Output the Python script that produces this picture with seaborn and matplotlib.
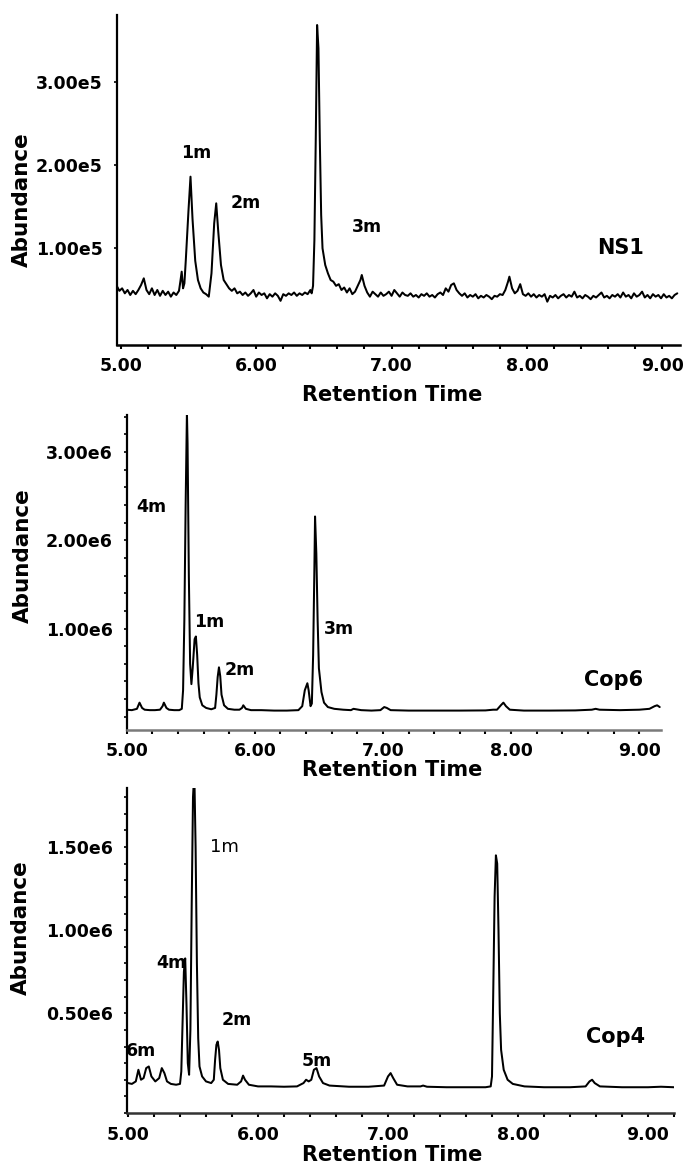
import matplotlib
matplotlib.use("Agg")
import matplotlib.pyplot as plt
from matplotlib.ticker import FixedLocator, MultipleLocator
import seaborn as sns
import pandas as pd

# ---------------- data ----------------
x_ticks = [5.0, 6.0, 7.0, 8.0, 9.0]
x_ticklabels = ["5.00", "6.00", "7.00", "8.00", "9.00"]

# NS1 trace: retention time (min), abundance in units of 1e5
ns1_trace = [
    (4.97, 0.55), (4.99, 0.49), (5.01, 0.52), (5.03, 0.46), (5.05, 0.50), (5.07, 0.44),
    (5.09, 0.49), (5.11, 0.45), (5.13, 0.50), (5.15, 0.56), (5.17, 0.64), (5.19, 0.50),
    (5.21, 0.45), (5.23, 0.52), (5.25, 0.44), (5.27, 0.50), (5.29, 0.43), (5.31, 0.49),
    (5.33, 0.44), (5.35, 0.48), (5.37, 0.42), (5.39, 0.47), (5.41, 0.44), (5.43, 0.49),
    (5.44, 0.60), (5.45, 0.72), (5.46, 0.52), (5.47, 0.58), (5.48, 0.85), (5.50, 1.45),
    (5.515, 1.86), (5.53, 1.35), (5.55, 0.85), (5.57, 0.62), (5.59, 0.52), (5.61, 0.47),
    (5.63, 0.45), (5.65, 0.42), (5.67, 0.70), (5.69, 1.30), (5.705, 1.54), (5.72, 1.20),
    (5.74, 0.80), (5.76, 0.62), (5.78, 0.57), (5.80, 0.52), (5.82, 0.49), (5.84, 0.52),
    (5.86, 0.46), (5.88, 0.48), (5.90, 0.44), (5.92, 0.47), (5.94, 0.43), (5.96, 0.46),
    (5.98, 0.50), (6.00, 0.42), (6.02, 0.47), (6.04, 0.44), (6.06, 0.46), (6.08, 0.40),
    (6.10, 0.45), (6.12, 0.42), (6.14, 0.46), (6.16, 0.43), (6.18, 0.37), (6.20, 0.45),
    (6.22, 0.43), (6.24, 0.46), (6.26, 0.44), (6.28, 0.47), (6.30, 0.43), (6.32, 0.46),
    (6.34, 0.44), (6.36, 0.47), (6.38, 0.45), (6.40, 0.50), (6.41, 0.46), (6.42, 0.55),
    (6.43, 1.10), (6.44, 2.30), (6.45, 3.68), (6.46, 3.40), (6.47, 2.30), (6.48, 1.40),
    (6.49, 1.00), (6.51, 0.80), (6.53, 0.70), (6.55, 0.62), (6.57, 0.60), (6.59, 0.55),
    (6.61, 0.57), (6.63, 0.50), (6.65, 0.53), (6.67, 0.47), (6.69, 0.52), (6.71, 0.45),
    (6.73, 0.48), (6.75, 0.55), (6.77, 0.62), (6.78, 0.68), (6.80, 0.55), (6.82, 0.47),
    (6.84, 0.42), (6.86, 0.48), (6.88, 0.45), (6.90, 0.42), (6.92, 0.47), (6.94, 0.43),
    (6.96, 0.45), (6.98, 0.48), (7.00, 0.43), (7.02, 0.50), (7.04, 0.46), (7.06, 0.42),
    (7.08, 0.47), (7.10, 0.44), (7.12, 0.43), (7.14, 0.46), (7.16, 0.42), (7.18, 0.44),
    (7.20, 0.41), (7.22, 0.45), (7.24, 0.43), (7.26, 0.46), (7.28, 0.42), (7.30, 0.44),
    (7.32, 0.41), (7.34, 0.45), (7.36, 0.47), (7.38, 0.44), (7.40, 0.52), (7.42, 0.48),
    (7.44, 0.56), (7.46, 0.58), (7.48, 0.50), (7.50, 0.46), (7.52, 0.43), (7.54, 0.46),
    (7.56, 0.41), (7.58, 0.44), (7.60, 0.42), (7.62, 0.45), (7.64, 0.40), (7.66, 0.43),
    (7.68, 0.41), (7.70, 0.44), (7.72, 0.42), (7.74, 0.39), (7.76, 0.43), (7.78, 0.42),
    (7.80, 0.45), (7.82, 0.44), (7.84, 0.50), (7.86, 0.60), (7.87, 0.66), (7.89, 0.52),
    (7.91, 0.46), (7.93, 0.49), (7.95, 0.57), (7.97, 0.45), (7.99, 0.43), (8.01, 0.46),
    (8.03, 0.42), (8.05, 0.45), (8.07, 0.41), (8.09, 0.44), (8.11, 0.42), (8.13, 0.45),
    (8.15, 0.36), (8.17, 0.43), (8.19, 0.41), (8.21, 0.44), (8.23, 0.40), (8.25, 0.43),
    (8.27, 0.45), (8.29, 0.41), (8.31, 0.44), (8.33, 0.42), (8.35, 0.48), (8.37, 0.41),
    (8.39, 0.43), (8.41, 0.40), (8.43, 0.44), (8.45, 0.42), (8.47, 0.39), (8.49, 0.43),
    (8.51, 0.41), (8.53, 0.44), (8.55, 0.47), (8.57, 0.41), (8.59, 0.43), (8.61, 0.40),
    (8.63, 0.44), (8.65, 0.42), (8.67, 0.45), (8.69, 0.41), (8.71, 0.47), (8.73, 0.42),
    (8.75, 0.44), (8.77, 0.40), (8.79, 0.46), (8.81, 0.42), (8.83, 0.44), (8.85, 0.48),
    (8.87, 0.41), (8.89, 0.44), (8.91, 0.40), (8.93, 0.45), (8.95, 0.42), (8.97, 0.44),
    (8.99, 0.40), (9.01, 0.45), (9.03, 0.41), (9.05, 0.43), (9.07, 0.40), (9.09, 0.44),
    (9.11, 0.46),
]
ns1_yticks = [1.0, 2.0, 3.0]
ns1_yticklabels = ["1.00e5", "2.00e5", "3.00e5"]
ns1_labels = ["1m", "2m", "3m"]
ns1_label_rt = [5.56, 5.92, 6.82]
ns1_label_ab = [2.14, 1.54, 1.25]

# Cop6 trace: retention time (min), abundance in units of 1e6
cop6_trace = [
    (5.00, 0.08), (5.04, 0.075), (5.08, 0.09), (5.10, 0.16), (5.12, 0.10), (5.14, 0.08),
    (5.18, 0.075), (5.22, 0.075), (5.26, 0.08), (5.28, 0.12), (5.29, 0.16), (5.31, 0.10),
    (5.33, 0.08), (5.37, 0.075), (5.41, 0.075), (5.43, 0.09), (5.44, 0.30), (5.45, 1.10),
    (5.46, 2.40), (5.47, 3.45), (5.475, 3.10), (5.485, 1.60), (5.495, 0.60), (5.505, 0.37),
    (5.515, 0.55), (5.53, 0.88), (5.54, 0.91), (5.55, 0.70), (5.56, 0.38), (5.57, 0.22),
    (5.59, 0.13), (5.62, 0.10), (5.66, 0.085), (5.69, 0.10), (5.70, 0.25), (5.71, 0.45),
    (5.72, 0.56), (5.73, 0.46), (5.74, 0.25), (5.76, 0.13), (5.79, 0.09), (5.84, 0.08),
    (5.88, 0.08), (5.90, 0.10), (5.91, 0.13), (5.93, 0.09), (5.97, 0.075), (6.05, 0.075),
    (6.15, 0.07), (6.25, 0.07), (6.34, 0.075), (6.37, 0.12), (6.39, 0.30), (6.41, 0.38),
    (6.42, 0.30), (6.435, 0.12), (6.445, 0.15), (6.455, 0.70), (6.465, 1.70), (6.47, 2.27),
    (6.48, 1.85), (6.49, 1.10), (6.50, 0.55), (6.52, 0.28), (6.54, 0.16), (6.57, 0.11),
    (6.62, 0.09), (6.69, 0.08), (6.75, 0.075), (6.77, 0.09), (6.79, 0.085), (6.83, 0.075),
    (6.91, 0.07), (6.98, 0.075), (7.01, 0.11), (7.03, 0.10), (7.06, 0.075), (7.20, 0.07),
    (7.40, 0.07), (7.60, 0.07), (7.80, 0.072), (7.86, 0.08), (7.89, 0.08), (7.92, 0.13),
    (7.94, 0.16), (7.96, 0.12), (7.99, 0.08), (8.10, 0.07), (8.30, 0.07), (8.50, 0.072),
    (8.63, 0.08), (8.66, 0.09), (8.69, 0.08), (8.85, 0.075), (9.00, 0.08), (9.08, 0.09),
    (9.12, 0.12), (9.14, 0.13), (9.16, 0.11),
]
cop6_yticks = [1.0, 2.0, 3.0]
cop6_yticklabels = ["1.00e6", "2.00e6", "3.00e6"]
cop6_labels = ["4m", "1m", "2m", "3m"]
cop6_label_rt = [5.19, 5.64, 5.88, 6.66]
cop6_label_ab = [2.38, 1.07, 0.53, 0.99]

# Cop4 trace: retention time (min), abundance in units of 1e6
cop4_trace = [
    (5.00, 0.08), (5.03, 0.075), (5.06, 0.09), (5.08, 0.16), (5.10, 0.10), (5.12, 0.11),
    (5.14, 0.17), (5.16, 0.18), (5.18, 0.12), (5.21, 0.09), (5.24, 0.11), (5.26, 0.17),
    (5.28, 0.14), (5.30, 0.09), (5.33, 0.075), (5.37, 0.07), (5.40, 0.075), (5.41, 0.15),
    (5.42, 0.45), (5.43, 0.75), (5.44, 0.83), (5.45, 0.55), (5.46, 0.20), (5.47, 0.13),
    (5.48, 0.40), (5.49, 1.15), (5.50, 1.80), (5.51, 1.95), (5.52, 1.50), (5.53, 0.80),
    (5.54, 0.35), (5.55, 0.18), (5.57, 0.12), (5.60, 0.09), (5.64, 0.08), (5.66, 0.10),
    (5.67, 0.22), (5.68, 0.31), (5.69, 0.33), (5.70, 0.28), (5.71, 0.17), (5.73, 0.10),
    (5.77, 0.075), (5.84, 0.07), (5.87, 0.09), (5.885, 0.125), (5.90, 0.10), (5.93, 0.07),
    (6.00, 0.06), (6.10, 0.06), (6.20, 0.058), (6.30, 0.06), (6.35, 0.08), (6.37, 0.10),
    (6.39, 0.09), (6.41, 0.10), (6.43, 0.16), (6.45, 0.17), (6.47, 0.12), (6.50, 0.08),
    (6.55, 0.065), (6.70, 0.058), (6.85, 0.058), (6.97, 0.065), (7.00, 0.12), (7.02, 0.14),
    (7.04, 0.11), (7.07, 0.07), (7.15, 0.06), (7.25, 0.06), (7.27, 0.065), (7.30, 0.058),
    (7.45, 0.055), (7.60, 0.055), (7.75, 0.055), (7.79, 0.06), (7.80, 0.12), (7.81, 0.65),
    (7.82, 1.20), (7.83, 1.45), (7.84, 1.40), (7.85, 1.00), (7.86, 0.50), (7.87, 0.28),
    (7.89, 0.16), (7.92, 0.10), (7.96, 0.075), (8.05, 0.06), (8.20, 0.055), (8.40, 0.055),
    (8.52, 0.06), (8.55, 0.09), (8.57, 0.10), (8.59, 0.08), (8.63, 0.06), (8.80, 0.055),
    (9.00, 0.055), (9.10, 0.058), (9.20, 0.055),
]
cop4_yticks = [0.5, 1.0, 1.5]
cop4_yticklabels = ["0.50e6", "1.00e6", "1.50e6"]
cop4_labels = ["6m", "4m", "2m", "5m"]
cop4_label_rt = [5.10, 5.33, 5.84, 6.45]
cop4_label_ab = [0.27, 0.80, 0.46, 0.21]

# ---------------- style ----------------
sns.set_style("ticks")
plt.rcParams["font.family"] = ["DejaVu Sans"]
plt.rcParams["font.weight"] = "bold"
plt.rcParams["text.color"] = "black"
plt.rcParams["axes.labelcolor"] = "black"
plt.rcParams["xtick.color"] = "black"
plt.rcParams["ytick.color"] = "black"
plt.rcParams["xtick.labelcolor"] = "black"
plt.rcParams["ytick.labelcolor"] = "black"

W, H = 686, 1167
fig = plt.figure(figsize=(W / 100, H / 100), dpi=100)


def px_axes(left, top, right, bottom):
    return fig.add_axes([left / W, 1 - bottom / H, (right - left) / W, (bottom - top) / H])


panels = [
    dict(trace=ns1_trace, box=(116.7, 15, 680, 345), xlim=(4.97, 9.13), ylim=(-0.16, 3.80),
         yt=ns1_yticks, ytl=ns1_yticklabels, yminor=None,
         labels=ns1_labels, lrt=ns1_label_rt, lab=ns1_label_ab,
         name="NS1", name_pos=(8.69, 1.00), ylab=(-0.150, 0.44), xlab=(0.489, -0.121),
         xspine="black"),
    dict(trace=cop6_trace, box=(126.7, 415, 661, 730), xlim=(5.0, 9.17), ylim=(-0.15, 3.42),
         yt=cop6_yticks, ytl=cop6_yticklabels, yminor=0.2,
         labels=cop6_labels, lrt=cop6_label_rt, lab=cop6_label_ab,
         name="Cop6", name_pos=(8.80, 0.42), ylab=(-0.175, 0.552), xlab=(0.497, -0.095),
         xspine="#7a7a7a"),
    dict(trace=cop4_trace, box=(126.7, 788, 674, 1113), xlim=(4.99, 9.20), ylim=(-0.10, 1.855),
         yt=cop4_yticks, ytl=cop4_yticklabels, yminor=0.1,
         labels=cop4_labels, lrt=cop4_label_rt, lab=cop4_label_ab,
         name="Cop4", name_pos=(8.75, 0.36), ylab=(-0.175, 0.569), xlab=(0.485, -0.098),
         xspine="#333333"),
]

for i, p in enumerate(panels):
    ax = px_axes(*p["box"])
    df = pd.DataFrame(p["trace"], columns=["rt", "abundance"])
    sns.lineplot(data=df, x="rt", y="abundance", ax=ax, color="black",
                 linewidth=1.45, estimator=None, sort=True)
    ax.set_xlim(*p["xlim"])
    ax.set_ylim(*p["ylim"])
    sns.despine(ax=ax)
    ax.spines["left"].set_linewidth(1.6)
    ax.spines["bottom"].set_linewidth(1.8)
    ax.spines["left"].set_color("black")
    ax.spines["bottom"].set_color(p["xspine"])

    ax.xaxis.set_major_locator(FixedLocator(x_ticks))
    ax.set_xticklabels(x_ticklabels)
    ax.xaxis.set_minor_locator(MultipleLocator(0.2))
    ax.yaxis.set_major_locator(FixedLocator(p["yt"]))
    ax.set_yticklabels(p["ytl"])
    if p["yminor"]:
        ax.yaxis.set_minor_locator(MultipleLocator(p["yminor"]))
    ax.tick_params(axis="x", which="both", direction="out", length=3, width=1.5,
                   color="black", labelcolor="black", labelsize=12.5, pad=6)
    ax.tick_params(axis="y", which="both", direction="out", length=2, width=1.2,
                   color="black", labelcolor="black", labelsize=12.5, pad=8)
    for t in ax.get_xticklabels() + ax.get_yticklabels():
        t.set_fontweight("bold")

    ax.set_xlabel("Retention Time", fontsize=15, fontweight="bold", color="black")
    ax.set_ylabel("Abundance", fontsize=15.5, fontweight="bold", color="black")
    ax.xaxis.set_label_coords(*p["xlab"])
    ax.yaxis.set_label_coords(*p["ylab"])

    for lbl, x, y in zip(p["labels"], p["lrt"], p["lab"]):
        ax.text(x, y, lbl, fontsize=12.5, fontweight="bold", ha="center", va="center",
                color="black")
    ax.text(p["name_pos"][0], p["name_pos"][1], p["name"], fontsize=15,
            fontweight="bold", ha="center", va="center", color="black")
    if i == 2:
        ax.text(5.74, 1.50, "1m", fontsize=13, fontweight="normal", ha="center",
                va="center", color="black")

fig.savefig("out.png", dpi=100)
